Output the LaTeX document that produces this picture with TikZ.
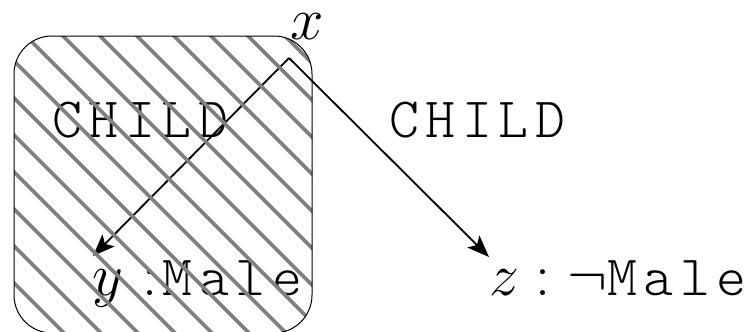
\RequirePackage{fix-cm}
\documentclass[tikz,border=0pt]{standalone}
\usepackage{fontspec}
\newfontfamily\ttwide{Latin Modern Mono Light}[LetterSpace=11.5]
\usetikzlibrary{arrows.meta}
\newcommand{\ttlabel}[1]{\mbox{\fontsize{57}{66}\selectfont\ttwide #1}}
\begin{document}
\begin{tikzpicture}[x=1pt,y=-1pt,
  mathlbl/.style={inner sep=0pt, anchor=base west, font=\fontsize{60}{70}\selectfont},
  ttlbl/.style={inner sep=0pt, anchor=base west, font=\fontsize{57}{66}\selectfont\ttwide},
  arr/.style={line width=1.8pt, -{Stealth[length=22pt,width=17pt,inset=5pt]}},
  hatchline/.style={line width=3.8pt, draw=black!50},
  boxline/.style={line width=1pt, rounded corners=38pt}]
\useasboundingbox (0,0) rectangle (753,332);
% labels
\node[mathlbl] (xl) at (290,39) {$x$};
\node[ttlbl] (c1) at (52,137) {CHILD};
\node[ttlbl] (c2) at (389,137) {CHILD};
\node[mathlbl] (yl) at (92,295) {$y\mkern6mu{:}\mkern1.5mu\ttlabel{Male}$};
\node[mathlbl] (zl) at (489,295) {$z\mathrel{:}\neg\ttlabel{Male}$};
% connectors
\coordinate (xa) at (289,58);
\coordinate (yt) at (93,256);
\coordinate (zt) at (489,257);
\draw[arr] (xa) -- (yt);
\draw[arr] (xa) -- (zt);
% hatched box
\begin{scope}
  \clip[rounded corners=38pt] (14,36) rectangle (312,333);
  \foreach \k in {-9,...,9} {
    \draw[hatchline] ({-10+37*\k+0},0) -- ({-10+37*\k+360},360);
  }
\end{scope}
\draw[boxline] (14,36) rectangle (312,333);
\end{tikzpicture}
\end{document}
